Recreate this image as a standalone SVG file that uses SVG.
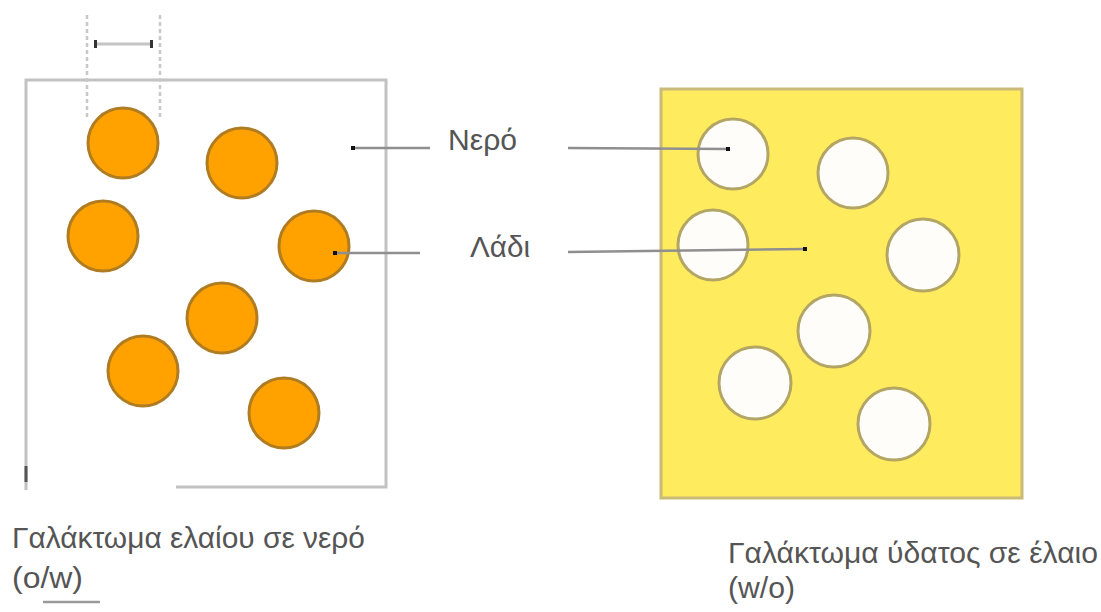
<svg xmlns="http://www.w3.org/2000/svg" width="1101" height="612" viewBox="0 0 1101 612">
  <style>
    .frame { fill: none; stroke: #c2c2c2; stroke-width: 3; }
    .oil { fill: #ffa200; stroke: #b07c22; stroke-width: 3; }
    .water { fill: #fffdfa; stroke: #b3a564; stroke-width: 3; }
    .lead { stroke: #8f8f8f; stroke-width: 2.5; fill: none; }
    .dash { stroke: #c8c8c8; stroke-width: 2.5; stroke-dasharray: 4 3; fill: none; }
    .label { font-family: "Liberation Sans", Arial, sans-serif; font-size: 30px; fill: #555555; }
    .dot { fill: #111111; }
  </style>

  <!-- oil-in-water panel -->
  <g id="panel-ow">
    <path class="frame" d="M26,490 V80 H386 V487 H176"/>
    <rect x="24.5" y="466" width="3" height="16" fill="#555555"/>
  </g>

  <!-- droplet diameter marker -->
  <g id="size-marker">
    <line class="dash" x1="87" y1="15" x2="87" y2="118"/>
    <line class="dash" x1="160" y1="15" x2="160" y2="118"/>
    <line x1="95" y1="44" x2="152" y2="44" stroke="#c4c4c4" stroke-width="3"/>
    <rect x="94" y="40" width="3" height="8" fill="#333333"/>
    <rect x="150" y="40" width="3" height="8" fill="#333333"/>
  </g>

  <g id="oil-drops">
    <circle class="oil" cx="123" cy="143" r="35"/>
    <circle class="oil" cx="242" cy="163" r="35"/>
    <circle class="oil" cx="103" cy="236" r="35"/>
    <circle class="oil" cx="314" cy="246" r="35"/>
    <circle class="oil" cx="222" cy="318" r="35"/>
    <circle class="oil" cx="143" cy="371" r="35"/>
    <circle class="oil" cx="284" cy="413" r="35"/>
  </g>

  <!-- water-in-oil panel -->
  <g id="panel-wo">
    <rect x="661" y="89" width="361" height="409" fill="#ffec5e" stroke="#c9ba78" stroke-width="3"/>
  </g>

  <g id="water-drops">
    <circle class="water" cx="733" cy="154" r="35"/>
    <circle class="water" cx="853" cy="173" r="35"/>
    <circle class="water" cx="713" cy="245" r="35"/>
    <circle class="water" cx="923" cy="255" r="36"/>
    <circle class="water" cx="834" cy="331" r="36"/>
    <circle class="water" cx="755" cy="383" r="36"/>
    <circle class="water" cx="894" cy="424" r="36"/>
  </g>

  <!-- leader lines -->
  <g id="connectors">
    <line class="lead" x1="353" y1="148" x2="430" y2="148"/>
    <rect class="dot" x="351" y="146" width="4" height="4"/>
    <line class="lead" x1="568" y1="148" x2="728" y2="149"/>
    <rect class="dot" x="726" y="147" width="4" height="4"/>
    <line class="lead" x1="335" y1="253" x2="420" y2="253"/>
    <rect class="dot" x="333" y="251" width="4" height="4"/>
    <line class="lead" x1="568" y1="252" x2="805" y2="249"/>
    <rect class="dot" x="803" y="247" width="4" height="4"/>
  </g>

  <g id="label-water">
    <text class="label" x="448" y="150" textLength="69" lengthAdjust="spacingAndGlyphs">Νερό</text>
  </g>
  <g id="label-oil">
    <text class="label" x="470" y="257" textLength="60" lengthAdjust="spacingAndGlyphs">Λάδι</text>
  </g>

  <g id="caption-ow">
    <text class="label" x="12" y="548" textLength="353" lengthAdjust="spacingAndGlyphs">Γαλάκτωμα ελαίου σε νερό</text>
    <text class="label" x="12" y="588" textLength="71" lengthAdjust="spacingAndGlyphs">(o/w)</text>
    <line x1="43" y1="602" x2="100" y2="602" stroke="#9a9a9a" stroke-width="2.5"/>
  </g>

  <g id="caption-wo">
    <text class="label" x="728" y="563" textLength="370" lengthAdjust="spacingAndGlyphs">Γαλάκτωμα ύδατος σε έλαιο</text>
    <text class="label" x="728" y="598" textLength="67" lengthAdjust="spacingAndGlyphs">(w/o)</text>
  </g>
</svg>
